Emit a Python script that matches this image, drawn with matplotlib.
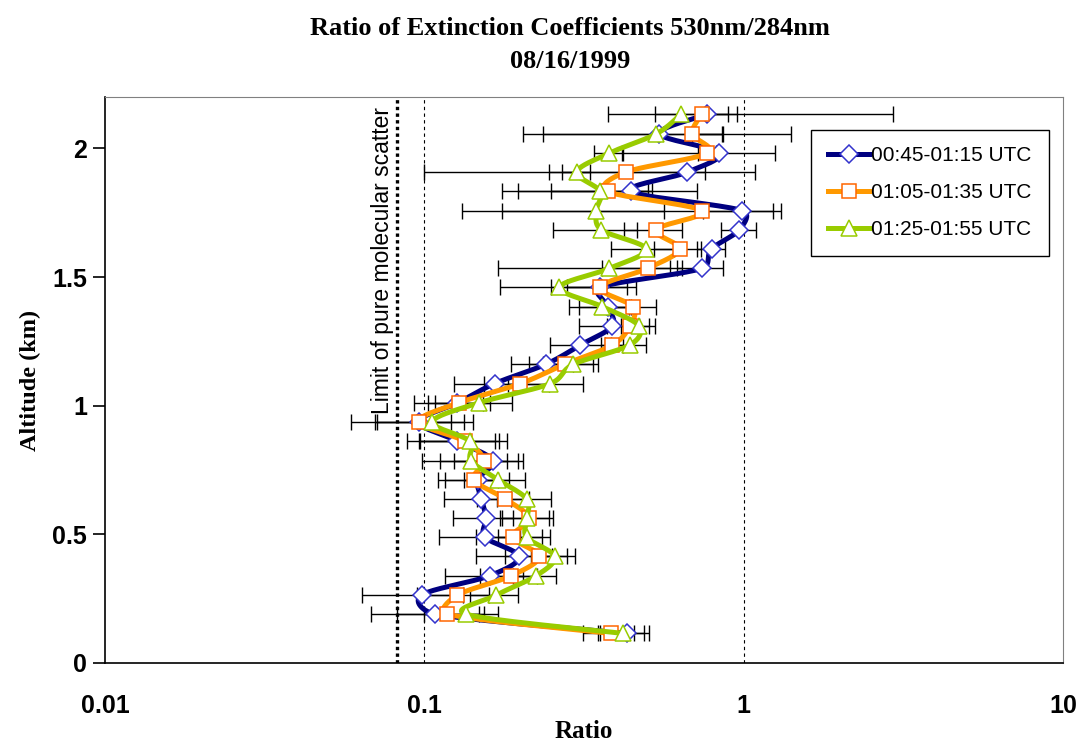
import numpy as np
import matplotlib.pyplot as plt
from matplotlib.lines import Line2D

# altitudes (km), bottom to top
altitude = [0.115, 0.190, 0.264, 0.339, 0.414, 0.489, 0.563, 0.638, 0.713, 0.787,
            0.862, 0.937, 1.011, 1.086, 1.161, 1.236, 1.310, 1.385, 1.460, 1.534,
            1.609, 1.684, 1.758, 1.833, 1.908, 1.982, 2.057, 2.132]

# 00:45-01:15 UTC
ratio_a = [0.430, 0.108, 0.098, 0.160, 0.198, 0.155, 0.156, 0.151, 0.147, 0.164,
           0.127, 0.096, 0.127, 0.166, 0.240, 0.308, 0.388, 0.375, 0.355, 0.740,
           0.793, 0.970, 0.990, 0.445, 0.666, 0.836, 0.545, 0.766]
err_a = [0.076, 0.040, 0.034, 0.044, 0.053, 0.044, 0.033, 0.036, 0.037, 0.040,
         0.039, 0.037, 0.034, 0.042, 0.053, 0.060, 0.082, 0.070, 0.105, 0.120,
         0.080, 0.120, 0.245, 0.270, 0.420, 0.420, 0.310, 2.160]

# 01:05-01:35 UTC
ratio_b = [0.383, 0.118, 0.127, 0.187, 0.229, 0.189, 0.213, 0.179, 0.143, 0.154,
           0.134, 0.096, 0.128, 0.200, 0.275, 0.388, 0.440, 0.450, 0.355, 0.500,
           0.630, 0.532, 0.740, 0.375, 0.427, 0.770, 0.690, 0.738]
err_b = [0.070, 0.036, 0.032, 0.038, 0.050, 0.044, 0.040, 0.033, 0.027, 0.042,
         0.037, 0.025, 0.025, 0.046, 0.062, 0.030, 0.067, 0.080, 0.075, 0.140,
         0.105, 0.110, 0.565, 0.125, 0.327, 0.050, 0.720, 0.212]

# 01:25-01:55 UTC
ratio_c = [0.418, 0.135, 0.168, 0.224, 0.256, 0.209, 0.210, 0.209, 0.170, 0.140,
           0.139, 0.106, 0.148, 0.248, 0.293, 0.440, 0.470, 0.361, 0.265, 0.380,
           0.495, 0.358, 0.346, 0.356, 0.300, 0.380, 0.533, 0.635]
err_c = [0.068, 0.035, 0.029, 0.035, 0.040, 0.039, 0.035, 0.040, 0.037, 0.042,
         0.043, 0.036, 0.040, 0.065, 0.058, 0.055, 0.056, 0.078, 0.093, 0.210,
         0.110, 0.106, 0.215, 0.160, 0.030, 0.040, 0.330, 0.260]

labels = ['00:45-01:15 UTC', '01:05-01:35 UTC', '01:25-01:55 UTC']
molecular_limit = 0.082
x_ticks = [0.01, 0.1, 1, 10]
x_ticklabels = ['0.01', '0.1', '1', '10']
y_ticks = [0, 0.5, 1, 1.5, 2]
y_ticklabels = ['0', '0.5', '1', '1.5', '2']


fig = plt.figure(figsize=(10.8, 7.45), dpi=100)
ax = fig.add_axes([105 / 1080, 82 / 745, 958 / 1080, 566 / 745])
ax.set_xscale('log')
ax.set_xlim(0.01, 10)
ax.set_ylim(0, 2.2)


# smoothed line in the way Excel does it: bezier segments whose control
# points are limited by the segment length (done in screen pixels)
def smooth(xs, ys, n=20):
    tr = ax.transData
    p = tr.transform(np.column_stack([xs, ys]))
    p = np.vstack([p[0], p, p[-1]])
    out = []
    for i in range(1, len(p) - 2):
        p0, p1, p2, p3 = p[i - 1], p[i], p[i + 1], p[i + 2]
        d02 = np.hypot(*(p2 - p0))
        d12 = np.hypot(*(p2 - p1))
        d13 = np.hypot(*(p3 - p1))
        f1 = min(1 / 6, d12 / (2 * d02)) if d02 > 0 else 0
        f2 = min(1 / 6, d12 / (2 * d13)) if d13 > 0 else 0
        c1 = p1 + (p2 - p0) * f1
        c2 = p2 - (p3 - p1) * f2
        t = np.linspace(0, 1, n, endpoint=False)[:, None]
        seg = ((1 - t) ** 3 * p1 + 3 * (1 - t) ** 2 * t * c1
               + 3 * (1 - t) * t ** 2 * c2 + t ** 3 * p2)
        out.append(seg)
    out.append(p[-2][None, :])
    out = tr.inverted().transform(np.vstack(out))
    return out[:, 0], out[:, 1]


# gridlines and limit line
for g in [0.1, 1]:
    ax.axvline(g, color='black', lw=0.8, ls=(0, (3, 3)), zorder=1)
ax.axvline(molecular_limit, color='black', lw=2.4, ls=(0, (1, 1)), zorder=1)
ax.text(0.0738, 1.565, 'Limit of pure molecular scatter', rotation=90,
        ha='center', va='center', fontsize=16.5, family='Liberation Sans')

series = [
    (ratio_a, err_a, '#000080', 'D', '#3333CC', 9.5),
    (ratio_b, err_b, '#FF9900', 's', '#FF6600', 10),
    (ratio_c, err_c, '#99CC00', '^', '#99CC00', 12),
]

handles = []
for i, (r, e, col, mk, mec, ms) in enumerate(series):
    r = np.array(r)
    e = np.array(e)
    lower = np.where(e < r, e, 0.0)
    ax.errorbar(r, altitude, xerr=[lower, e], fmt='none', ecolor='black',
                elinewidth=1, capsize=5.5, capthick=1, zorder=2)
for i, (r, e, col, mk, mec, ms) in enumerate(series):
    sx, sy = smooth(r, altitude)
    ax.plot(sx, sy, color=col, lw=3.6, zorder=3 + i, solid_capstyle='round')
    ax.plot(r, altitude, ls='none', marker=mk, ms=ms, mfc='white', mec=mec,
            mew=1.1, zorder=3 + i)
    handles.append(Line2D([0], [0], color=col, lw=3.6, marker=mk, ms=ms,
                          mfc='white', mec=mec, mew=1.1))

leg = ax.legend(handles, labels, loc='upper left', bbox_to_anchor=(0.737, 0.942),
                frameon=True, fancybox=False, edgecolor='black', framealpha=1,
                prop={'family': 'Liberation Sans', 'size': 15},
                handlelength=2.0, handletextpad=0.1, labelspacing=0.85,
                borderpad=0.8, borderaxespad=0)
leg.get_frame().set_linewidth(1.0)

# axes styling
for side in ['top', 'right']:
    ax.spines[side].set_color('#808080')
ax.spines['left'].set_linewidth(1.2)
ax.spines['bottom'].set_linewidth(1.2)
ax.set_xticks(x_ticks)
ax.set_xticklabels(x_ticklabels)
ax.xaxis.set_minor_locator(plt.NullLocator())
ax.set_yticks(y_ticks)
ax.set_yticklabels(y_ticklabels)
ax.tick_params(axis='x', length=0, pad=22)
ax.tick_params(axis='y', length=9, width=1.2, direction='out', pad=4)
for lab in ax.get_xticklabels() + ax.get_yticklabels():
    lab.set_fontfamily('Liberation Sans')
    lab.set_fontweight('bold')
    lab.set_fontsize(18)

ax.set_xlabel('Ratio', family='Liberation Serif', fontweight='bold', fontsize=18, labelpad=2)
ax.set_ylabel('Altitude (km)', family='Liberation Serif', fontweight='bold', fontsize=17.5, labelpad=8)

fig.text(0.528, 0.962, 'Ratio of Extinction Coefficients 530nm/284nm', ha='center', va='center',
         family='Liberation Serif', fontweight='bold', fontsize=19)
fig.text(0.528, 0.918, '08/16/1999', ha='center', va='center',
         family='Liberation Serif', fontweight='bold', fontsize=19)

fig.savefig('out.png', dpi=100)
